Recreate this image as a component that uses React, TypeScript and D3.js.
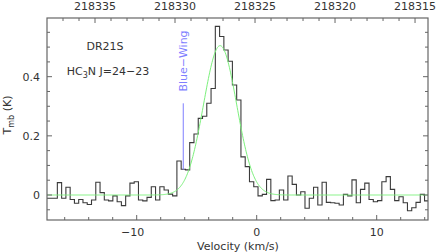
import * as d3 from "d3";
import {useEffect, useRef} from "react";

const useD3 = (renderChartFn, dependencies) => {
    const ref = useRef();
    useEffect(() => {
        renderChartFn(d3.select(ref.current));
        return () => {};
    }, dependencies);
    return ref;
}

// spectrum channels (km/s): left edge of first channel + channel width
const chanStart = -17.68
const chanWidth = 0.3558
// main beam temperature per channel (K)
const tmb = [
    -0.011, -0.011, -0.011, 0.042, -0.011, 0.026, -0.015, -0.028, -0.015, -0.026,
    -0.032, -0.017, 0.043, 0.008, -0.017, -0.020, -0.003, -0.023, -0.036, -0.003,
    0.040, 0.045, -0.017, -0.020, -0.008, 0.028, -0.017, 0.028, 0.017, 0.003,
    -0.003, 0.115, 0.087, 0.085, 0.177, 0.206, 0.259, 0.266, 0.310, 0.360,
    0.570, 0.536, 0.490, 0.452, 0.372, 0.321, 0.129, 0.096, 0.045, 0.028,
    -0.003, 0.002, 0.053, -0.019, -0.017, 0.017, -0.017, 0.064, 0.036, 0.000,
    0.011, -0.045, -0.011, 0.026, -0.034, 0.043, -0.025, -0.026, -0.028, -0.034,
    0.002, -0.003, 0.051, -0.026, 0.019, 0.040, -0.015, -0.023, -0.019, 0.045,
    0.062, 0.019, -0.019, -0.006, -0.026, -0.053, -0.043, -0.025, 0.002, -0.020
]

// gaussian fit
const fitAmp = 0.505
const fitCenter = -3.05
const fitFwhm = 3.25

// blue wing marker
const wingVel = -6.12
const wingRange = [0.086, 0.31]

const velTicks = [-10, 0, 10]
const velLabels = ["\u221210", "0", "10"]
const tmbTicks = [0, 0.2, 0.4]
const tmbLabels = ["0", "0.2", "0.4"]
const freqTicks = [218335, 218330, 218325, 218320, 218315]

const W = 436, H = 252
const L = 47, R = 428, T = 18, B = 220
const font = "'DejaVu Sans', sans-serif"

const Spectrum = () => {
    const ref = useD3(
        (svg) => {
            svg.selectAll("*").remove()

            const x = d3.scaleLinear().domain([-17.475, 14.275]).range([L, R])
            const y = d3.scaleLinear().domain([-0.0845, 0.5984]).range([B, T])
            const f = d3.scaleLinear().domain([218338.0, 218314.19]).range([L, R])

            svg.append("defs").append("clipPath").attr("id", "plotclip")
                .append("rect").attr("x", L).attr("y", T).attr("width", R - L).attr("height", B - T)

            // histogram
            const pts = tmb.map((t, i) => [chanStart + i * chanWidth, t])
            pts.push([chanStart + tmb.length * chanWidth, tmb[tmb.length - 1]])
            svg.append("path")
                .attr("clip-path", "url(#plotclip)")
                .attr("d", d3.line().x(d => x(d[0])).y(d => y(d[1])).curve(d3.curveStepAfter)(pts))
                .attr("fill", "none")
                .attr("stroke", "#3a3a3a")
                .attr("stroke-width", 1.1)

            // gaussian fit
            const sig = fitFwhm / (2 * Math.sqrt(2 * Math.LN2))
            const vs = d3.range(x.domain()[0], x.domain()[1] + 0.05, 0.05)
            svg.append("path")
                .attr("clip-path", "url(#plotclip)")
                .attr("d", d3.line().x(v => x(v)).y(v => y(fitAmp * Math.exp(-((v - fitCenter) ** 2) / (2 * sig * sig))))(vs))
                .attr("fill", "none")
                .attr("stroke", "#7cf07c")
                .attr("stroke-width", 1)

            // frame
            svg.append("rect")
                .attr("x", L).attr("y", T).attr("width", R - L).attr("height", B - T)
                .attr("fill", "none").attr("stroke", "#666").attr("stroke-width", 1.2)

            const ticks = svg.append("g").attr("stroke", "#666").attr("stroke-width", 1)
            // velocity ticks (bottom)
            d3.range(-16, 15, 2).forEach(v => {
                const len = v % 10 === 0 ? 5 : 3
                ticks.append("line").attr("x1", x(v)).attr("x2", x(v)).attr("y1", B).attr("y2", B - len)
            })
            // frequency ticks (top)
            d3.range(218315, 218338, 1).forEach(fr => {
                const len = fr % 5 === 0 ? 5 : 3
                ticks.append("line").attr("x1", f(fr)).attr("x2", f(fr)).attr("y1", T).attr("y2", T + len)
            })
            // temperature ticks (left and right)
            d3.range(-0.05, 0.6, 0.05).forEach(t => {
                const major = Math.abs(t / 0.2 - Math.round(t / 0.2)) < 1e-6
                const len = major ? 5 : 3
                ticks.append("line").attr("x1", L).attr("x2", L + len).attr("y1", y(t)).attr("y2", y(t))
                ticks.append("line").attr("x1", R).attr("x2", R - len).attr("y1", y(t)).attr("y2", y(t))
            })

            const txt = svg.append("g").attr("font-family", font).attr("font-size", 11).attr("fill", "#333")

            velTicks.forEach((v, i) => {
                txt.append("text").attr("x", x(v) - (v < 0 ? 4 : 0)).attr("y", 236)
                    .attr("text-anchor", "middle").text(velLabels[i])
            })
            freqTicks.forEach(fr => {
                txt.append("text").attr("x", f(fr)).attr("y", 9.5)
                    .attr("text-anchor", "middle").text(fr)
            })
            tmbTicks.forEach((t, i) => {
                txt.append("text").attr("x", 40).attr("y", y(t) + 4)
                    .attr("text-anchor", "end").text(tmbLabels[i])
            })

            txt.append("text").attr("x", 238).attr("y", 249.5)
                .attr("text-anchor", "middle").text("Velocity (km/s)")

            const yl = txt.append("text").attr("transform", "translate(10.5,115) rotate(-90)")
                .attr("text-anchor", "middle")
            yl.append("tspan").text("T")
            yl.append("tspan").attr("dy", 3).attr("font-size", 8).text("mb")
            yl.append("tspan").attr("dy", -3).text(" (K)")

            txt.append("text").attr("x", 105).attr("y", 50)
                .attr("text-anchor", "middle").text("DR21S")

            const mol = txt.append("text").attr("x", 108).attr("y", 75).attr("text-anchor", "middle")
            mol.append("tspan").text("HC")
            mol.append("tspan").attr("dy", 3).attr("font-size", 8).text("3")
            mol.append("tspan").attr("dy", -3).text("N J=24\u221223")

            // blue wing marker
            svg.append("line")
                .attr("x1", x(wingVel)).attr("x2", x(wingVel))
                .attr("y1", y(wingRange[0])).attr("y2", y(wingRange[1]))
                .attr("stroke", "#7f7fff").attr("stroke-width", 1)
            svg.append("text")
                .attr("transform", `translate(${x(wingVel) + 4},61) rotate(-90)`)
                .attr("text-anchor", "middle")
                .attr("font-family", font).attr("font-size", 11)
                .attr("fill", "#7f7fff")
                .text("Blue\u2212Wing")
        }, []
    )

    return (
        <svg ref={ref} width={W} height={H}
             style={{position: "absolute", left: 0, top: 0, background: "#fff"}}>
        </svg>
    )
}

export default function App() {
    return <Spectrum/>
}
